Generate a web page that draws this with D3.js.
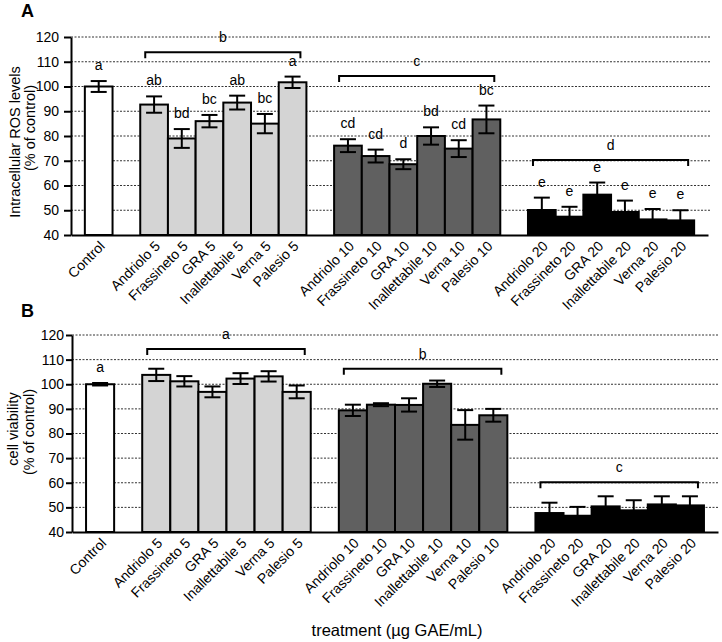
<!DOCTYPE html>
<html>
<head>
<meta charset="utf-8">
<script src="https://cdn.jsdelivr.net/npm/d3@7"></script>
<style>
  body { margin: 0; background: #fff; }
  svg { display: block; font-family: "Liberation Sans", Arial, sans-serif; }
</style>
</head>
<body>
<div id="chart"></div>
<script>
// categories (x axis)
const categories = [
  "Control",
  "Andriolo 5", "Frassineto 5", "GRA 5", "Inallettabile 5", "Verna 5", "Palesio 5",
  "Andriolo 10", "Frassineto 10", "GRA 10", "Inallettabile 10", "Verna 10", "Palesio 10",
  "Andriolo 20", "Frassineto 20", "GRA 20", "Inallettabile 20", "Verna 20", "Palesio 20"
];
const yTicks = [40, 50, 60, 70, 80, 90, 100, 110, 120];

// panel A - ROS
const rosMeans = [100, 92.7, 79, 86, 93.5, 85, 101.7, 76.1, 71.9, 68.6, 80, 74.9, 86.7, 50.1, 47.4, 56.3, 49.3, 46.3, 45.9];
const rosErr = [2.2, 3.3, 3.8, 2.5, 2.8, 3.9, 2.3, 2.6, 2.6, 2, 3.5, 3.4, 5.6, 5, 4, 4.9, 4.6, 4.2, 4.1];
const rosLetters = ["a", "ab", "bd", "bc", "ab", "bc", "a", "cd", "cd", "d", "bd", "cd", "bc", "e", "e", "e", "e", "e", "e"];
const rosBrackets = [
  { group: "5", level: 113.8, letter: "b" },
  { group: "10", level: 104.2, letter: "c" },
  { group: "20", level: 70.3, letter: "d" }
];

// panel B - viability
const viabMeans = [100, 103.8, 101.2, 96.9, 102.3, 103.2, 96.9, 89.4, 91.7, 91.6, 100.2, 83.5, 87.4, 47.7, 46.6, 50.4, 48.8, 51.2, 50.8];
const viabErr = [0.5, 2.5, 2.1, 2.2, 2.2, 2.1, 2.6, 2.3, 0.6, 2.7, 1.3, 6, 2.6, 4.2, 3.6, 4.1, 4.1, 3.3, 3.7];
const viabLetters = ["a", "", "", "", "", "", "", "", "", "", "", "", "", "", "", "", "", "", ""];
const viabBrackets = [
  { group: "5", level: 114.3, letter: "a" },
  { group: "10", level: 106.3, letter: "b" },
  { group: "20", level: 60.2, letter: "c" }
];

const colors = { "Control": "#ffffff", "5": "#d4d4d4", "10": "#606060", "20": "#000000" };

function groupOf(c) {
  return c === "Control" ? "Control" : c.split(" ").pop();
}

// slots: an empty slot between each group
const slots = [];
categories.forEach((c, i) => {
  if (i > 0 && groupOf(c) !== groupOf(categories[i - 1])) slots.push("gap" + i);
  slots.push(c);
});

const svg = d3.select("#chart").append("svg")
  .attr("width", 722)
  .attr("height", 642);

function drawPanel(cfg) {
  const g = svg.append("g");

  const x = d3.scaleBand()
    .domain(slots)
    .range([cfg.left, cfg.right])
    .paddingInner(0)
    .paddingOuter(0.5);

  const y = d3.scaleLinear()
    .domain([40, 120])
    .range([cfg.bottom, cfg.top]);

  const data = categories.map((c, i) => ({
    cat: c, group: groupOf(c), mean: cfg.means[i], err: cfg.errs[i], letter: cfg.letters[i]
  }));

  // grid lines
  g.selectAll(".grid")
    .data(yTicks.filter(t => t > 40))
    .enter()
    .append("line")
      .attr("x1", cfg.left)
      .attr("x2", cfg.gridRight)
      .attr("y1", d => y(d))
      .attr("y2", d => y(d))
      .attr("stroke", "#333")
      .attr("stroke-width", 1)
      .attr("stroke-dasharray", "2,1.5");

  // bars
  g.selectAll(".bar")
    .data(data)
    .enter()
    .append("rect")
      .attr("x", d => x(d.cat))
      .attr("y", d => y(d.mean))
      .attr("width", x.bandwidth())
      .attr("height", d => y(40) - y(d.mean))
      .attr("fill", d => colors[d.group])
      .attr("stroke", "#000")
      .attr("stroke-width", 2);

  // error bars
  const cap = 8;
  const eb = g.selectAll(".err")
    .data(data)
    .enter()
    .append("g")
      .attr("stroke", "#000")
      .attr("stroke-width", 2);
  eb.append("line")
    .attr("x1", d => x(d.cat) + x.bandwidth() / 2)
    .attr("x2", d => x(d.cat) + x.bandwidth() / 2)
    .attr("y1", d => y(d.mean - d.err))
    .attr("y2", d => y(d.mean + d.err));
  eb.append("line")
    .attr("x1", d => x(d.cat) + x.bandwidth() / 2 - cap)
    .attr("x2", d => x(d.cat) + x.bandwidth() / 2 + cap)
    .attr("y1", d => y(d.mean + d.err))
    .attr("y2", d => y(d.mean + d.err));
  eb.append("line")
    .attr("x1", d => x(d.cat) + x.bandwidth() / 2 - cap)
    .attr("x2", d => x(d.cat) + x.bandwidth() / 2 + cap)
    .attr("y1", d => y(d.mean - d.err))
    .attr("y2", d => y(d.mean - d.err));

  // letters above bars
  g.selectAll(".letter")
    .data(data.filter(d => d.letter))
    .enter()
    .append("text")
      .attr("x", d => x(d.cat) + x.bandwidth() / 2)
      .attr("y", d => y(d.mean + d.err) - 11)
      .attr("text-anchor", "middle")
      .style("font-size", "14px")
      .text(d => d.letter);

  // brackets over groups
  cfg.brackets.forEach(b => {
    const cats = categories.filter(c => groupOf(c) === b.group);
    const x0 = x(cats[0]) + 5;
    const x1 = x(cats[cats.length - 1]) + x.bandwidth() - 6;
    const by = y(b.level);
    g.append("path")
      .attr("d", `M${x0},${by + 6}V${by}H${x1}V${by + 6}`)
      .attr("fill", "none")
      .attr("stroke", "#000")
      .attr("stroke-width", 2);
    g.append("text")
      .attr("x", (x0 + x1) / 2)
      .attr("y", by - 10)
      .attr("text-anchor", "middle")
      .style("font-size", "14px")
      .text(b.letter);
  });

  // Y axis
  const yAxis = g.append("g")
    .attr("transform", `translate(${cfg.left},0)`)
    .call(d3.axisLeft(y).tickValues(yTicks).tickSize(cfg.tickSize).tickSizeOuter(0).tickPadding(cfg.tickPad));
  yAxis.select(".domain").attr("stroke-width", 2);
  yAxis.selectAll(".tick line").attr("stroke-width", 2);
  yAxis.selectAll("text")
    .style("font-size", "14px")
    .style("font-family", "Liberation Sans, Arial, sans-serif")
    .attr("fill", "#000");

  // X axis
  const xAxis = g.append("g")
    .attr("transform", `translate(0,${cfg.bottom})`)
    .call(d3.axisBottom(x).tickValues(categories).tickSize(0).tickSizeOuter(0));
  xAxis.select(".domain").attr("stroke-width", 2);
  xAxis.selectAll("text")
    .attr("x", 0)
    .attr("y", 0)
    .attr("dy", 0)
    .attr("text-anchor", "end")
    .attr("transform", "translate(7,12) rotate(-45)")
    .style("font-size", "14px")
    .style("font-family", "Liberation Sans, Arial, sans-serif")
    .attr("fill", "#000");

  // Y title (two lines)
  cfg.titles.forEach(t => {
    g.append("text")
      .attr("transform", `translate(${t.x},${t.y}) rotate(-90)`)
      .attr("dy", "0.35em")
      .attr("text-anchor", "middle")
      .style("font-size", "14.5px")
      .text(t.text);
  });

  // panel letter
  g.append("text")
    .attr("x", 21)
    .attr("y", cfg.labelY)
    .style("font-size", "18px")
    .style("font-weight", "bold")
    .text(cfg.label);
}

drawPanel({
  label: "A", labelY: 17,
  left: 71, right: 708, gridRight: 710, top: 37, bottom: 235,
  tickSize: 7, tickPad: 5,
  means: rosMeans, errs: rosErr, letters: rosLetters, brackets: rosBrackets,
  titles: [
    { text: "Intracellular ROS levels", x: 15, y: 142 },
    { text: "(% of control)", x: 30, y: 128 }
  ]
});

drawPanel({
  label: "B", labelY: 317,
  left: 72, right: 718, gridRight: 718, top: 335, bottom: 532,
  tickSize: 6, tickPad: 2,
  means: viabMeans, errs: viabErr, letters: viabLetters, brackets: viabBrackets,
  titles: [
    { text: "cell viability", x: 13, y: 429 },
    { text: "(% of control)", x: 29, y: 432 }
  ]
});

// X axis title
svg.append("text")
  .attr("x", 397)
  .attr("y", 636)
  .attr("text-anchor", "middle")
  .style("font-size", "16.5px")
  .text("treatment (µg GAE/mL)");
</script>
</body>
</html>
